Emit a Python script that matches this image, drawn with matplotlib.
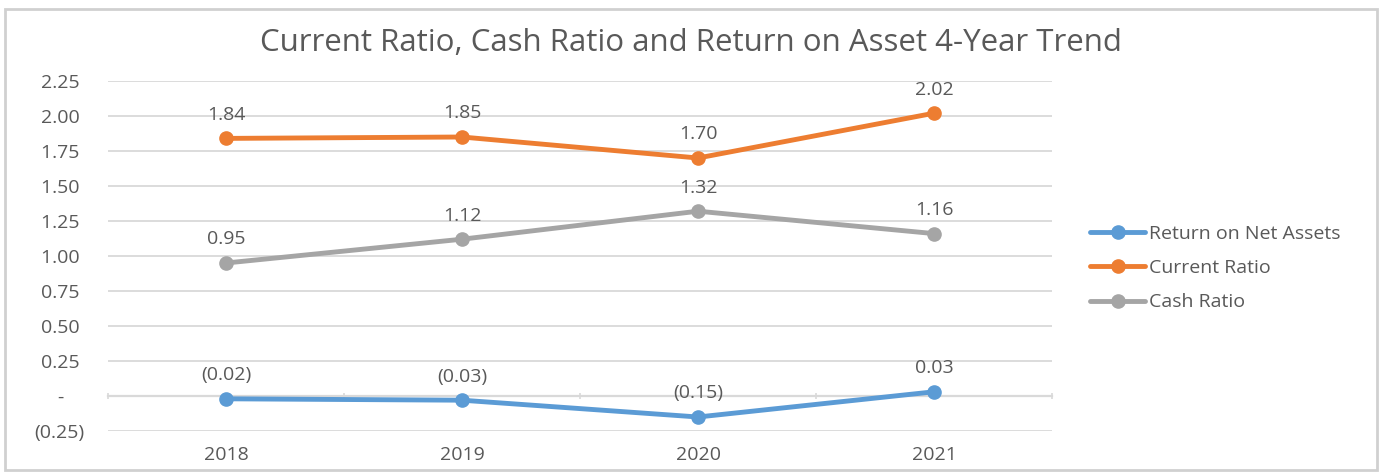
import matplotlib
matplotlib.use("Agg")
import matplotlib.pyplot as plt
from matplotlib.ticker import FuncFormatter, FixedLocator
from matplotlib.patches import Rectangle

years = ["2018", "2019", "2020", "2021"]
return_on_net_assets = [-0.02, -0.03, -0.15, 0.03]
current_ratio = [1.84, 1.85, 1.70, 2.02]
cash_ratio = [0.95, 1.12, 1.32, 1.16]
series_names = ["Return on Net Assets", "Current Ratio", "Cash Ratio"]
y_ticks = [-0.25, 0.0, 0.25, 0.5, 0.75, 1.0, 1.25, 1.5, 1.75, 2.0, 2.25]
title = "Current Ratio, Cash Ratio and Return on Asset 4-Year Trend"

colors = ["#5B9BD5", "#ED7D31", "#A5A5A5"]
text_color = "#595959"
grid_color = "#D9D9D9"
FONT = "Open Sans"
plt.rcParams["font.family"] = [FONT, "DejaVu Sans"]
FS = 14.0


def acct(v, pos=None):
    if abs(v) < 1e-9:
        return "-    "
    if v < 0:
        return f"({abs(v):.2f})"
    return f"{v:.2f} "


def acct_label(v):
    if abs(v) < 1e-9:
        return "-"
    if v < 0:
        return f"({abs(v):.2f})"
    return f"{v:.2f}"


fig = plt.figure(figsize=(13.83, 4.75), dpi=100)
fig.patch.set_facecolor("white")

# chart frame
fig.add_artist(Rectangle((5 / 1383, 1 - 470 / 475), (1377 - 5) / 1383, (470 - 9) / 475,
                         transform=fig.transFigure, fill=False, edgecolor="#D0D0D0",
                         linewidth=2.0))

ax = fig.add_axes([108 / 1383, 1 - 431 / 475, (1052 - 108) / 1383, (431 - 81) / 475])
x = list(range(len(years)))
data = [return_on_net_assets, current_ratio, cash_ratio]
for vals, name, c in zip(data, series_names, colors):
    ax.plot(x, vals, color=c, linewidth=3.5, marker="o", markersize=9.5,
            label=name, solid_capstyle="round", zorder=3)
    for xi, v in zip(x, vals):
        ax.annotate(acct_label(v), (xi, v), xytext=(0, 17), textcoords="offset points",
                    ha="center", va="center", fontsize=FS, color=text_color, zorder=4)

ax.set_xlim(-0.5, len(years) - 0.5)
ax.set_ylim(y_ticks[0], y_ticks[-1])
ax.yaxis.set_major_locator(FixedLocator(y_ticks))
ax.yaxis.set_major_formatter(FuncFormatter(acct))
ax.grid(axis="y", color=grid_color, linewidth=1.3, zorder=0)
ax.set_axisbelow(True)

for s in ["top", "right", "left"]:
    ax.spines[s].set_visible(False)
ax.spines["bottom"].set_position(("data", 0))
ax.spines["bottom"].set_color(grid_color)
ax.spines["bottom"].set_linewidth(1.6)

ax.set_xticks(x)
ax.set_xticklabels(years)
ax.set_xticks([i - 0.5 for i in range(len(years) + 1)], minor=True)
ax.tick_params(axis="x", which="major", length=0, pad=36, labelsize=FS, labelcolor=text_color)
ax.tick_params(axis="x", which="minor", length=4, direction="inout", color=grid_color, width=1.2)
ax.tick_params(axis="y", length=0, pad=17, labelsize=FS, labelcolor=text_color)
for lab in ax.get_yticklabels():
    lab.set_horizontalalignment("right")

fig.text(691 / 1383, 1 - 43 / 475, title, ha="center", va="center",
         fontsize=22.5, color=text_color)

leg = fig.legend(loc="center left", bbox_to_anchor=(1090 / 1383, 1 - 268 / 475),
                 frameon=False, fontsize=FS, labelcolor=text_color,
                 handlelength=2.85, handletextpad=0.2, labelspacing=0.84,
                 borderaxespad=0, borderpad=0)

fig.savefig("out.png", dpi=100, facecolor="white")
